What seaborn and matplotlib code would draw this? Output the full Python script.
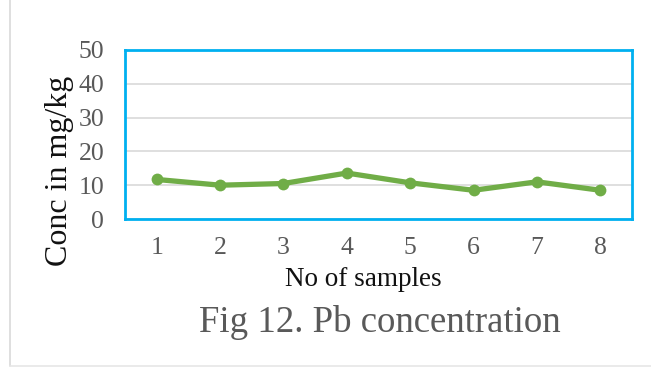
import matplotlib
matplotlib.use("Agg")
import matplotlib.pyplot as plt
import seaborn as sns
import pandas as pd
from matplotlib.lines import Line2D

# Pb concentration per sample (mg/kg)
samples = ["1", "2", "3", "4", "5", "6", "7", "8"]
pb_conc = [11.7, 10.0, 10.5, 13.6, 10.7, 8.5, 11.0, 8.5]
y_ticks = [0, 10, 20, 30, 40, 50]

df = pd.DataFrame({"sample": samples, "conc": pb_conc})

sns.set_theme(style="white")
plt.rcParams["font.family"] = ["Liberation Serif", "DejaVu Serif"]

fig = plt.figure(figsize=(6.51, 3.67), dpi=100)
ax = fig.add_axes([125 / 651, 1 - 219 / 367, (632 - 125) / 651, (219 - 50) / 367])

sns.lineplot(data=df, x="sample", y="conc", ax=ax, color="#70AD47",
             linewidth=3.8, marker="o", markersize=8.5,
             markeredgewidth=0, sort=False)

ax.set_xlim(-0.5, len(samples) - 0.5)
ax.set_ylim(0, 50)
ax.set_yticks(y_ticks)
ax.set_yticklabels([str(t) for t in y_ticks])
ax.yaxis.grid(True, color="#D9D9D9", linewidth=1.2)
ax.xaxis.grid(False)
ax.set_axisbelow(True)

for side in ax.spines.values():
    side.set_visible(True)
    side.set_color("#00B0F0")
    side.set_linewidth(2)

ax.tick_params(axis="both", length=0, labelsize=18.5, labelcolor="#595959")
ax.tick_params(axis="y", pad=15)
ax.tick_params(axis="x", pad=13)

ax.set_xlabel("")
ax.set_ylabel("")
fig.text(363 / 651, 1 - 279 / 367, "No of samples", ha="center", va="center",
         fontsize=19.5, color="#111111")
fig.text(60 / 651, 1 - 171 / 367, "Conc in mg/kg", ha="center", va="center",
         rotation=90, fontsize=23, color="#111111")
fig.text(380 / 651, 1 - 322 / 367, "Fig 12. Pb concentration", ha="center",
         va="center", fontsize=26.5, color="#595959")

# light outer frame lines on the left and bottom
fig.add_artist(Line2D([10 / 651, 10 / 651], [1 - 366 / 367, 1], color="#D9D9D9",
                      linewidth=1.2, transform=fig.transFigure))
fig.add_artist(Line2D([10 / 651, 1], [1 - 365.5 / 367, 1 - 365.5 / 367],
                      color="#E6E6E6", linewidth=1.2, transform=fig.transFigure))

fig.savefig("out.png", dpi=100)
